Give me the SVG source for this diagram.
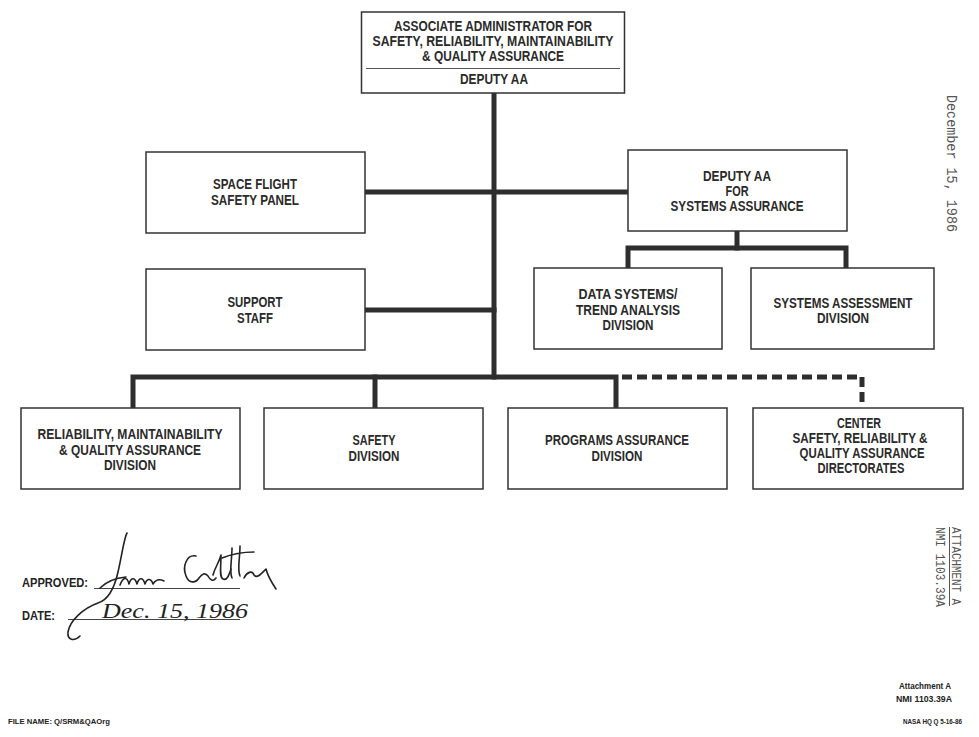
<svg xmlns="http://www.w3.org/2000/svg" width="979" height="737" viewBox="0 0 979 737">
<style>
.box{fill:#fff;stroke:#333;stroke-width:1.5}
.lbl{font-family:"Liberation Sans Narrow","Liberation Sans",Arial,sans-serif;font-weight:bold;font-size:14px;fill:#2a2a2a;text-anchor:middle}
.con{fill:none;stroke:#2e2e2e;stroke-width:5;stroke-linejoin:miter;stroke-linecap:square}
.dash{fill:none;stroke:#2e2e2e;stroke-width:5;stroke-dasharray:10 5}
.mono{font-family:"Liberation Mono","Courier New",monospace;fill:#555;font-size:14px}
.small{font-family:"Liberation Sans Narrow","Liberation Sans",Arial,sans-serif;font-weight:bold;fill:#222}
.sig{fill:none;stroke:#222;stroke-width:1.6;stroke-linecap:round;stroke-linejoin:round}
</style>
<rect width="979" height="737" fill="#fff"/>

<g id="connectors">
<path class="con" d="M494,93 V377"/>
<path class="con" d="M365,192 H628"/>
<path class="con" d="M365,310 H494"/>
<path class="con" d="M133,406 V377 H616 V406"/>
<path class="con" d="M375,377 V406"/>
<path class="dash" d="M622,377 H862 V407"/>
<path class="con" d="M737,231 V248"/>
<path class="con" d="M628,267 V248 H846 V267"/>
</g>

<g id="aa">
<rect class="box" x="361.5" y="12" width="263" height="81"/>
<line x1="366" y1="68.5" x2="620" y2="68.5" stroke="#555" stroke-width="1"/>
<text class="lbl" x="493" y="31" textLength="198" lengthAdjust="spacingAndGlyphs">ASSOCIATE ADMINISTRATOR FOR</text>
<text class="lbl" x="493" y="46" textLength="241" lengthAdjust="spacingAndGlyphs">SAFETY, RELIABILITY, MAINTAINABILITY</text>
<text class="lbl" x="493" y="61" textLength="142" lengthAdjust="spacingAndGlyphs">&amp; QUALITY ASSURANCE</text>
<text class="lbl" x="494" y="84" textLength="68" lengthAdjust="spacingAndGlyphs">DEPUTY AA</text>
</g>

<g id="sfsp">
<rect class="box" x="146" y="152" width="219" height="81"/>
<text class="lbl" x="255" y="189" textLength="84" lengthAdjust="spacingAndGlyphs">SPACE FLIGHT</text>
<text class="lbl" x="255" y="205" textLength="88" lengthAdjust="spacingAndGlyphs">SAFETY PANEL</text>
</g>

<g id="support">
<rect class="box" x="146" y="269" width="219" height="81"/>
<text class="lbl" x="255" y="307" textLength="55" lengthAdjust="spacingAndGlyphs">SUPPORT</text>
<text class="lbl" x="255" y="323" textLength="36" lengthAdjust="spacingAndGlyphs">STAFF</text>
</g>

<g id="deputy-sa">
<rect class="box" x="628" y="150" width="219" height="81"/>
<text class="lbl" x="737" y="181" textLength="68" lengthAdjust="spacingAndGlyphs">DEPUTY AA</text>
<text class="lbl" x="737" y="196" textLength="23" lengthAdjust="spacingAndGlyphs">FOR</text>
<text class="lbl" x="737" y="211" textLength="133" lengthAdjust="spacingAndGlyphs">SYSTEMS ASSURANCE</text>
</g>

<g id="data-systems">
<rect class="box" x="534" y="268" width="188" height="81"/>
<text class="lbl" x="628" y="299" textLength="99" lengthAdjust="spacingAndGlyphs">DATA SYSTEMS/</text>
<text class="lbl" x="628" y="314.5" textLength="104" lengthAdjust="spacingAndGlyphs">TREND ANALYSIS</text>
<text class="lbl" x="628" y="330" textLength="51" lengthAdjust="spacingAndGlyphs">DIVISION</text>
</g>

<g id="systems-assessment">
<rect class="box" x="751" y="268" width="183" height="81"/>
<text class="lbl" x="843" y="308" textLength="139" lengthAdjust="spacingAndGlyphs">SYSTEMS ASSESSMENT</text>
<text class="lbl" x="843" y="323" textLength="52" lengthAdjust="spacingAndGlyphs">DIVISION</text>
</g>

<g id="rmqa">
<rect class="box" x="21" y="408" width="219" height="81"/>
<text class="lbl" x="130" y="439" textLength="185" lengthAdjust="spacingAndGlyphs">RELIABILITY, MAINTAINABILITY</text>
<text class="lbl" x="130" y="455" textLength="142" lengthAdjust="spacingAndGlyphs">&amp; QUALITY ASSURANCE</text>
<text class="lbl" x="130" y="470" textLength="52" lengthAdjust="spacingAndGlyphs">DIVISION</text>
</g>

<g id="safety">
<rect class="box" x="264" y="408" width="219" height="81"/>
<text class="lbl" x="374" y="445" textLength="43" lengthAdjust="spacingAndGlyphs">SAFETY</text>
<text class="lbl" x="374" y="461" textLength="51" lengthAdjust="spacingAndGlyphs">DIVISION</text>
</g>

<g id="programs">
<rect class="box" x="508" y="408" width="219" height="81"/>
<text class="lbl" x="617" y="445" textLength="144" lengthAdjust="spacingAndGlyphs">PROGRAMS ASSURANCE</text>
<text class="lbl" x="617" y="461" textLength="51" lengthAdjust="spacingAndGlyphs">DIVISION</text>
</g>

<g id="center">
<rect class="box" x="753" y="408" width="210" height="81"/>
<text class="lbl" x="859" y="428" textLength="44" lengthAdjust="spacingAndGlyphs">CENTER</text>
<text class="lbl" x="860" y="443" textLength="135" lengthAdjust="spacingAndGlyphs">SAFETY, RELIABILITY &amp;</text>
<text class="lbl" x="862" y="458" textLength="125" lengthAdjust="spacingAndGlyphs">QUALITY ASSURANCE</text>
<text class="lbl" x="861" y="473" textLength="87" lengthAdjust="spacingAndGlyphs">DIRECTORATES</text>
</g>

<g id="margin">
<text class="mono" transform="translate(947,95) rotate(90)" textLength="137" lengthAdjust="spacingAndGlyphs">December 15, 1986</text>
<text class="mono" style="font-size:12px" transform="translate(952,527) rotate(90)" textLength="78" lengthAdjust="spacingAndGlyphs">ATTACHMENT A</text>
<line x1="949.5" y1="527" x2="949.5" y2="606" stroke="#555" stroke-width="1"/>
<text class="mono" style="font-size:12px" transform="translate(936,527) rotate(90)" textLength="80" lengthAdjust="spacingAndGlyphs">NMI 1103.39A</text>
</g>

<g id="approval">
<text class="small" x="22" y="587" font-size="12" textLength="66" lengthAdjust="spacingAndGlyphs">APPROVED:</text>
<text class="small" x="22" y="620" font-size="12" textLength="33" lengthAdjust="spacingAndGlyphs">DATE:</text>
<line x1="94" y1="588.5" x2="240" y2="588.5" stroke="#444" stroke-width="1"/>
<line x1="68" y1="619.5" x2="240" y2="619.5" stroke="#444" stroke-width="1"/>
<path class="sig" d="M127,533 C124,538 122,555 118,572 C114,590 108,600 98,603 C84,608 70,620 68,632 C67,640 74,642 80,636"/>
<path class="sig" d="M100,588 C106,582 116,578 126,577"/>
<path class="sig" d="M120,585 c3,-8 7,-9 9,-1 c2,-7 6,-7 8,0 c2,-7 6,-7 8,0 c2,-6 6,-6 8,0 c3,-5 7,-5 11,-3"/>
<path class="sig" d="M196,556 c-9,-2 -14,10 -10,20 c3,8 10,7 13,2 c3,-4 6,-6 9,-2 c2,4 5,6 8,2"/>
<path class="sig" d="M213,575 c2,-8 6,-12 8,-20 c0,12 -2,22 2,24 c4,2 6,-4 8,-10"/>
<path class="sig" d="M232,548 c0,12 -3,24 0,30 M240,546 c0,12 -3,24 0,30 M222,558 c10,-4 20,-6 32,-6"/>
<path class="sig" d="M244,578 c3,-6 8,-8 10,-3 c3,4 8,-2 12,-6 c2,8 6,14 10,20"/>
<text x="102" y="618" font-family="'Liberation Serif',serif" font-style="italic" font-size="22" fill="#222" textLength="146" lengthAdjust="spacingAndGlyphs">Dec. 15, 1986</text>
</g>

<g id="footer">
<text class="small" x="899" y="689" font-size="8.5" textLength="52" lengthAdjust="spacingAndGlyphs">Attachment A</text>
<text class="small" x="896" y="702" font-size="8.5" textLength="56" lengthAdjust="spacingAndGlyphs">NMI 1103.39A</text>
<text class="small" x="903" y="724" font-size="7.5" textLength="59" lengthAdjust="spacingAndGlyphs">NASA HQ Q 5-16-86</text>
<text class="small" x="8" y="724" font-size="8" textLength="102" lengthAdjust="spacingAndGlyphs">FILE NAME: Q/SRM&amp;QAOrg</text>
</g>
</svg>
